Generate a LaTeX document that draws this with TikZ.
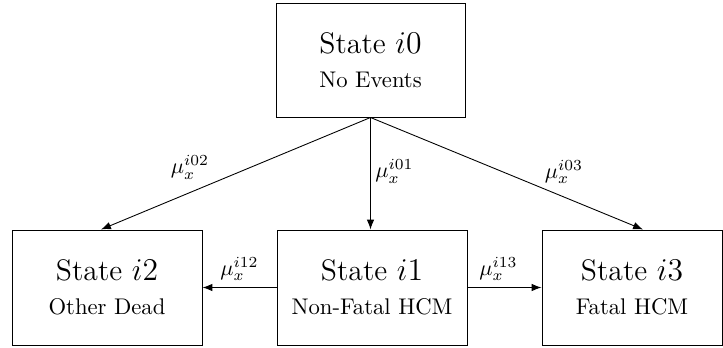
\documentclass[tikz,border=0pt]{standalone}
\usetikzlibrary{arrows.meta}
% heading line inside every state box
\newcommand\statefont{\fontsize{13.5}{15.5}\selectfont}
\begin{document}
\begin{tikzpicture}[x=0.4545pt,y=-0.4545pt,
  statebox/.style={draw, line width=0.45pt, minimum height={115*0.4545pt},
    align=center, inner sep=0pt, font=\fontsize{10.3}{15.5}\selectfont},
  flow/.style={-{Latex[length=4.5pt,width=3.4pt]}, line width=0.4pt},
  rate/.style={font=\fontsize{10.4}{12}\selectfont, inner sep=2pt}]
\useasboundingbox (0,0) rectangle (723,347);

% states
\node[statebox, minimum width={189*0.4545pt}, minimum height={114*0.4545pt}] (s0) at (370.5,60)
  {{\statefont State $i0$}\\No Events};
\node[statebox, minimum width={190*0.4545pt}] (s2) at (107,287.5)
  {{\statefont State $i2$}\\Other Dead};
\node[statebox, minimum width={190*0.4545pt}] (s1) at (372,287.5)
  {{\statefont State $i1$}\\Non-Fatal HCM};
\node[statebox, minimum width={180*0.4545pt}] (s3) at (632,287.5)
  {{\statefont State $i3$}\\Fatal HCM};

% transitions out of the healthy state
\draw[flow] (s0.south) -- node[rate, above, pos=0.67, yshift={4*0.4545pt}, inner sep=4pt] {$\mu_x^{i02}$}
  ([xshift={-6*0.4545pt}]s2.north);
\draw[flow] (s0.south) -- node[rate, right, pos=0.5, yshift={2*0.4545pt}] {$\mu_x^{i01}$}
  (s0.south |- s1.north);
\draw[flow] (s0.south) -- node[rate, above, pos=0.71, yshift={4*0.4545pt}, inner sep=4pt] {$\mu_x^{i03}$}
  ([xshift={11*0.4545pt}]s3.north);

% transitions out of the non-fatal state
\draw[flow] (s1.west) -- node[rate, above, inner sep=3pt] {$\mu_x^{i12}$} (s2.east);
\draw[flow] (s1.east) -- node[rate, above, inner sep=3pt, xshift={-6*0.4545pt}] {$\mu_x^{i13}$} (s3.west);
\end{tikzpicture}
\end{document}
